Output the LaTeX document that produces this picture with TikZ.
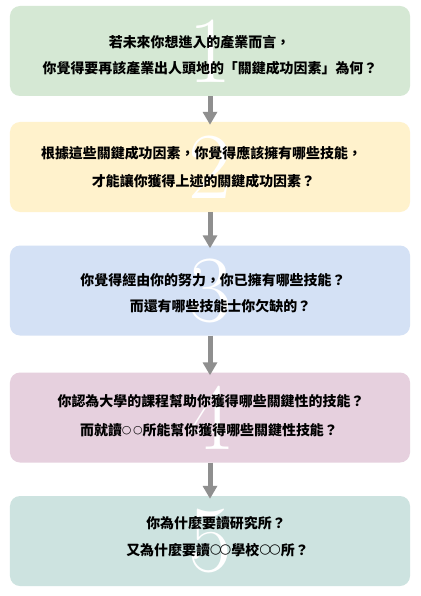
\documentclass[tikz,border=0pt]{standalone}
\usepackage{fontspec}
\newfontfamily\cjk{Noto Sans CJK TC}
\newfontfamily\symfont{DejaVu Sans}
\usetikzlibrary{arrows.meta}
\definecolor{cA}{HTML}{D5E8D4}
\definecolor{cB}{HTML}{FFF2CC}
\definecolor{cC}{HTML}{D4E1F5}
\definecolor{cD}{HTML}{E6D0DE}
\definecolor{cE}{HTML}{CDE3E0}
\definecolor{arr}{HTML}{8F8F8F}
\newcommand{\smallcirc}{\raisebox{1.6bp}{\symfont\fontsize{13.5}{13.5}\selectfont ○}}
\newcommand{\tinycirc}{\raisebox{1.8bp}{\symfont\fontsize{11}{11}\selectfont ○}}
\begin{document}
\begin{tikzpicture}[x=1bp,y=-1bp,
 box/.style={rounded corners=10bp, minimum width=400bp, minimum height=90bp, inner sep=0, draw=none},
 num/.style={text=white, font=\fontsize{95}{95}\selectfont, inner sep=0},
 txt/.style={font=\cjk\bfseries\fontsize{14}{14}\selectfont, inner sep=0, text=black},
 flow/.style={draw=arr, line width=5bp, -{Triangle[width=14bp,length=13bp]}}]
\useasboundingbox[fill=white] (0,0) rectangle (420,596);
% boxes
\node[box, fill=cA] (b1) at (210,51) {};
\node[box, fill=cB] (b2) at (210,167) {};
\node[box, fill=cC] (b3) at (210,290.5) {};
\node[box, fill=cD] (b4) at (210,417.5) {};
\node[box, fill=cE] (b5) at (210,541) {};
% numbers
\node[num] (n1) at (b1.center) {1};
\node[num] (n2) at (b2.center) {2};
\node[num] (n3) at (b3.center) {3};
\node[num] (n4) at (b4.center) {4};
\node[num] (n5) at (b5.center) {5};
% texts
\node[txt] (t1a) at (199.5,41.7) {若未來你想進入的產業而言，};
\node[txt] (t1b) at (210,67.8) {你覺得要再該產業出人頭地的「關鍵成功因素」為何？};
\node[txt] (t2a) at (201.5,153) {根據這些關鍵成功因素，你覺得應該擁有哪些技能，};
\node[txt] (t2b) at (203.5,181.3) {才能讓你獲得上述的關鍵成功因素？};
\node[txt] (t3a) at (213,280.3) {你覺得經由你的努力，你已擁有哪些技能？};
\node[txt] (t3b) at (220.5,306.3) {而還有哪些技能士你欠缺的？};
\node[txt] (t4a) at (211,401.7) {你認為大學的課程幫助你獲得哪些關鍵性的技能？};
\node[txt] (t4b) at (209,430) {而就讀\tinycirc\kern1.5bp\tinycirc 所能幫你獲得哪些關鍵性技能？};
\node[txt] (t5a) at (216,523.3) {你為什麼要讀研究所？};
\node[txt] (t5b) at (217.5,549.7) {又為什麼要讀\smallcirc\kern-2bp\smallcirc 學校\smallcirc\kern-2bp\smallcirc 所？};
% arrows
\draw[flow] (b1.south) -- ([yshift=-3bp]b2.north);
\draw[flow] (b2.south) -- ([yshift=-3bp]b3.north);
\draw[flow] (b3.south) -- ([yshift=-3bp]b4.north);
\draw[flow] (b4.south) -- ([yshift=-3bp]b5.north);
\end{tikzpicture}
\end{document}
